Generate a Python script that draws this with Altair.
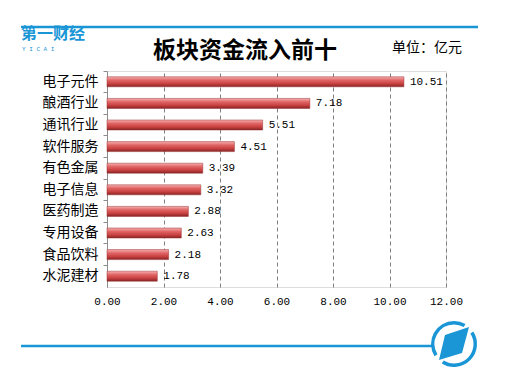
import altair as alt
import pandas as pd
import math

categories = ["电子元件", "酿酒行业", "通讯行业", "软件服务", "有色金属",
              "电子信息", "医药制造", "专用设备", "食品饮料", "水泥建材"]
values = [10.51, 7.18, 5.51, 4.51, 3.39, 3.32, 2.88, 2.63, 2.18, 1.78]
x_ticks = [0, 2, 4, 6, 8, 10, 12]
title_text = "板块资金流入前十"
unit_text = "单位：亿元"
logo_text = "第一财经"
logo_sub = "Y    I    C    A    I"

df = pd.DataFrame({"cat": categories, "val": values})
one = pd.DataFrame({"k": [0]})

BLUE = "#1A96D6"
W, H = 339, 216

grad = alt.Gradient(
    gradient="linear",
    stops=[
        alt.GradientStop(color="#F6B0B0", offset=0),
        alt.GradientStop(color="#E06464", offset=0.35),
        alt.GradientStop(color="#C84040", offset=0.7),
        alt.GradientStop(color="#842424", offset=1),
    ],
    x1=0, x2=0, y1=0, y2=1,
)

y_enc = alt.Y("cat:N", sort=categories,
              scale=alt.Scale(paddingInner=0, paddingOuter=0),
              axis=alt.Axis(title=None, bandPosition=0, domainColor="#8C8C8C",
                            tickColor="#8C8C8C", tickSize=4, labelFontSize=14,
                            labelFont="Noto Sans CJK SC", labelColor="#000000",
                            labelPadding=5, grid=False))
x_enc = alt.X("val:Q", scale=alt.Scale(domain=[0, 12], nice=False),
              axis=alt.Axis(title=None, values=x_ticks, format=".2f", grid=True,
                            gridDash=[4, 3], gridColor="#808080", gridWidth=1,
                            domain=False, ticks=False, labelFont="Liberation Mono",
                            labelFontSize=11, labelColor="#000000", labelPadding=8,
                            labelFlush=False, labelOverlap=False))

bars = alt.Chart(df).mark_bar(size=10, color=grad, stroke="#9A3030",
                              strokeWidth=0.5).encode(x=x_enc, y=y_enc)

labels = alt.Chart(df).mark_text(align="left", baseline="middle", dx=6,
                                 font="Liberation Mono", fontSize=11,
                                 color="#000000").encode(
    x="val:Q", y=alt.Y("cat:N", sort=categories),
    text=alt.Text("val:Q", format=".2f"))

def txt(s, x, y, size, font="Noto Sans CJK SC", weight="normal", align="center",
        color="#000000"):
    return alt.Chart(one).mark_text(text=s, fontSize=size, font=font,
                                    fontWeight=weight, align=align,
                                    baseline="middle", color=color).encode(
        x=alt.value(x), y=alt.value(y))

title = txt(title_text, 138, -20, 23, weight="bold")
unit = txt(unit_text, 320, -23, 14)
logo = txt(logo_text, -86, -37, 16, weight="bold", align="left", color=BLUE)
logo2 = txt(logo_sub, -85, -22, 6, font="Liberation Mono", align="left", color=BLUE)

top_line = alt.Chart(one).mark_rule(color=BLUE, strokeWidth=2.5).encode(
    x=alt.value(-86), x2=alt.value(371), y=alt.value(-44))
bot_line = alt.Chart(one).mark_rule(color=BLUE, strokeWidth=2.5).encode(
    x=alt.value(-86), x2=alt.value(326), y=alt.value(275))

cx, cy = 347, 273
d = math.pi / 180
arc1 = alt.Chart(one).mark_arc(radius=23, radius2=19.5, theta=57 * d, theta2=212 * d,
                               color=BLUE).encode(x=alt.value(cx), y=alt.value(cy))
arc2 = alt.Chart(one).mark_arc(radius=23, radius2=19.5, theta=238 * d, theta2=360 * d,
                               color=BLUE).encode(x=alt.value(cx), y=alt.value(cy))
arc3 = alt.Chart(one).mark_arc(radius=23, radius2=19.5, theta=0, theta2=30 * d,
                               color=BLUE).encode(x=alt.value(cx), y=alt.value(cy))
para = alt.Chart(one).mark_point(shape="M -9,-9 L 15,-17 L 8,9 L -15,16 Z", size=4,
                                 filled=True, opacity=1, color=BLUE).encode(
    x=alt.value(cx), y=alt.value(cy))

chart = alt.layer(bars, labels, title, unit, logo, logo2, top_line, bot_line,
                  arc1, arc2, arc3, para).properties(
    width=W, height=H,
    autosize=alt.AutoSizeParams(type="none"),
    padding={"left": 99, "top": 63, "right": 50, "bottom": 90},
).configure_view(stroke=None).configure(background="#FFFFFF")

chart.save("out.html", embed_options={"renderer": "svg", "actions": False})
